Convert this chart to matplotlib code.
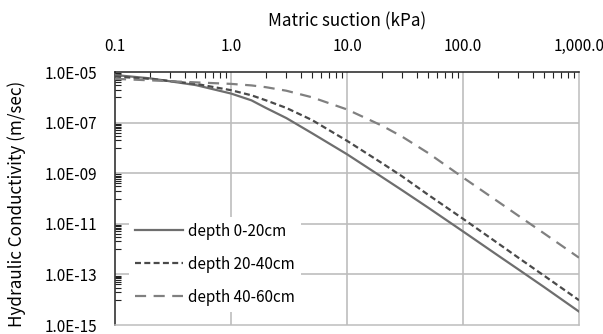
import matplotlib
matplotlib.use("Agg")
import matplotlib.pyplot as plt
from matplotlib.ticker import FixedLocator, FixedFormatter, NullFormatter

plt.rcParams['font.family'] = ['Noto Sans CJK KR', 'DejaVu Sans']
plt.rcParams['lines.scale_dashes'] = False

suction = [0.1, 0.2, 0.5, 1, 1.5, 2, 3, 5, 10, 20, 30, 50, 100, 200, 300, 500, 1000]
k_0_20 = [7.59e-6, 5.62e-6, 3.02e-6, 1.41e-6, 7.59e-7, 3.80e-7, 1.51e-7, 3.80e-8,
          5.62e-9, 7.08e-10, 2.09e-10, 4.37e-11, 5.01e-12, 5.62e-13, 1.58e-13,
          3.16e-14, 3.39e-15]
k_20_40 = [6.61e-6, 5.37e-6, 3.39e-6, 1.91e-6, 1.20e-6, 7.59e-7, 3.80e-7, 1.26e-7,
           1.91e-8, 2.51e-9, 7.41e-10, 1.41e-10, 1.58e-11, 1.70e-12, 4.57e-13,
           8.91e-14, 9.55e-15]
k_40_60 = [5.37e-6, 4.68e-6, 3.89e-6, 3.39e-6, 2.95e-6, 2.51e-6, 1.82e-6, 1.0e-6,
           3.31e-7, 7.59e-8, 2.75e-8, 6.31e-9, 6.76e-10, 7.59e-11, 2.09e-11,
           4.17e-12, 4.57e-13]
series_labels = ['depth 0-20cm', 'depth 20-40cm', 'depth 40-60cm']

x_ticks = [0.1, 1, 10, 100, 1000]
x_ticklabels = ['0.1', '1.0', '10.0', '100.0', '1,000.0']
y_ticks = [1e-15, 1e-13, 1e-11, 1e-9, 1e-7, 1e-5]
y_ticklabels = ['1.0E-15', '1.0E-13', '1.0E-11', '1.0E-09', '1.0E-07', '1.0E-05']

W, H = 603, 334
fig = plt.figure(figsize=(W/100, H/100), dpi=100)
L, R, T, B = 115, 579, 72, 325
ax = fig.add_axes([L/W, 1-B/H, (R-L)/W, (B-T)/H])
ax.set_xscale('log')
ax.set_yscale('log')
ax.set_xlim(0.1, 1000)
ax.set_ylim(1e-15, 1e-5)

gridc = '#bdbdbd'
for xv in x_ticks[1:-1]:
    ax.axvline(xv, color=gridc, lw=1.2, zorder=0)
for yv in y_ticks[1:-1]:
    ax.axhline(yv, color=gridc, lw=1.2, zorder=0)

ax.plot(suction, k_0_20, color='#6e6e6e', lw=1.6, ls='-', label=series_labels[0], zorder=3)
ax.plot(suction, k_20_40, color='#4a4a4a', lw=1.6, dashes=(4.3, 2.4), label=series_labels[1], zorder=3)
ax.plot(suction, k_40_60, color='#808080', lw=1.6, dashes=(8, 5.4), label=series_labels[2], zorder=3)

ax.xaxis.set_major_locator(FixedLocator(x_ticks))
ax.xaxis.set_major_formatter(FixedFormatter(x_ticklabels))
xminor = [m * 10.0**e for e in range(-1, 3) for m in range(2, 10)]
ax.xaxis.set_minor_locator(FixedLocator(xminor))
ax.xaxis.set_minor_formatter(NullFormatter())
ax.xaxis.tick_top()
ax.tick_params(axis='x', which='both', direction='in', top=True, bottom=False,
               labelsize=11, pad=12, colors='#000000')
ax.tick_params(axis='x', which='major', length=0)
ax.tick_params(axis='x', which='minor', length=4, width=0.8, color='#222222')

ax.yaxis.set_major_locator(FixedLocator(y_ticks))
ax.yaxis.set_major_formatter(FixedFormatter(y_ticklabels))
yminor = [m * 10.0**e for e in range(-14, -5, 2) for m in range(1, 10)]
ax.yaxis.set_minor_locator(FixedLocator(yminor))
ax.yaxis.set_minor_formatter(NullFormatter())
ax.tick_params(axis='y', which='both', direction='in', labelsize=11, pad=13)
ax.tick_params(axis='y', which='major', length=0)
ax.tick_params(axis='y', which='minor', length=4, width=0.8, color='#222222')

ax.spines['top'].set_color('#222222')
ax.spines['left'].set_color('#222222')
ax.spines['right'].set_color(gridc)
ax.spines['bottom'].set_color(gridc)
for s in ax.spines.values():
    s.set_linewidth(1.1)

fig.text(347.5/W, 1-21/H, 'Matric suction (kPa)', fontsize=12.3, ha='center', va='center')
fig.text(17/W, 1-204/H, 'Hydraulic Conductivity (m/sec)', fontsize=12.3,
         ha='center', va='center', rotation=90)

leg = ax.legend(loc='center left', bbox_to_anchor=(0.014, 0.24), frameon=True,
                fontsize=11, labelspacing=1.05, handlelength=3.1, handletextpad=0.33,
                borderpad=0.4)
leg.get_frame().set_facecolor('white')
leg.get_frame().set_edgecolor('none')
leg.get_frame().set_alpha(1)
leg.set_zorder(2)

fig.savefig('out.png', dpi=100)
